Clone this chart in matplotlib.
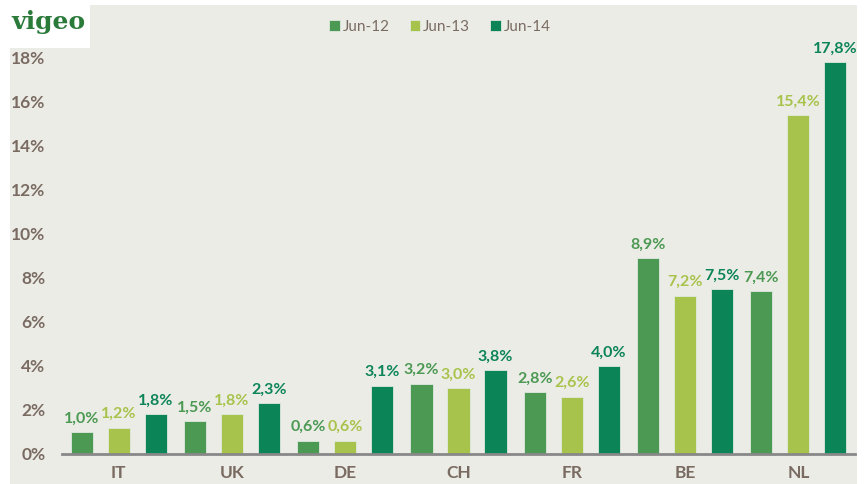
import matplotlib.pyplot as plt
import matplotlib.patches as mpatches
import numpy as np

plt.rcParams['font.family'] = ['Lato', 'DejaVu Sans']

countries = ['IT', 'UK', 'DE', 'CH', 'FR', 'BE', 'NL']
series = ['Jun-12', 'Jun-13', 'Jun-14']
jun12 = [1.0, 1.5, 0.6, 3.2, 2.8, 8.9, 7.4]
jun13 = [1.2, 1.8, 0.6, 3.0, 2.6, 7.2, 15.4]
jun14 = [1.8, 2.3, 3.1, 3.8, 4.0, 7.5, 17.8]
colors = ['#4b9952', '#a8c34b', '#0b8458']
yticks = [0, 2, 4, 6, 8, 10, 12, 14, 16, 18]

bg = '#ecece7'
txt = '#7a6b62'

fig = plt.figure(figsize=(8.67, 4.84), dpi=100, facecolor='white')
# beige panel behind everything
fig.patches.append(mpatches.Rectangle((10 / 867, 0), 847 / 867, 479 / 484,
                                      transform=fig.transFigure, facecolor=bg,
                                      edgecolor='none', zorder=-10))
ax = fig.add_axes([62 / 867, 30 / 484, 793 / 867, 418 / 484])
ax.set_facecolor('none')

x = np.arange(len(countries))
w = 0.195
off = 0.327
for i, (vals, c, name) in enumerate(zip([jun12, jun13, jun14], colors, series)):
    pos = x + (i - 1) * off
    ax.bar(pos, vals, width=w, color=c, label=name, edgecolor='#dfe9df', linewidth=0.6)
    for p, v in zip(pos, vals):
        ax.text(p, v + 0.3, ('%.1f%%' % v).replace('.', ','), ha='center', va='bottom',
                color=c, fontsize=11.5, fontweight='bold')

ax.set_xlim(-0.5, len(countries) - 0.5)
ax.set_ylim(0, 19)
ax.set_yticks(yticks)
ax.set_yticklabels(['%d%%' % t for t in yticks])
ax.set_xticks(x)
ax.set_xticklabels(countries)
for s in ['top', 'right', 'left']:
    ax.spines[s].set_visible(False)
ax.spines['bottom'].set_color('#888888')
ax.spines['bottom'].set_linewidth(2)
ax.tick_params(axis='both', length=0, labelsize=12.5, labelcolor=txt)
ax.tick_params(axis='y', pad=12)
ax.tick_params(axis='x', pad=8)
for lab in ax.get_xticklabels() + ax.get_yticklabels():
    lab.set_fontweight('bold')

fig.legend(loc='center', bbox_to_anchor=(440 / 867, 1 - 27 / 484), ncol=3, frameon=False,
           fontsize=11, handlelength=0.7, handleheight=0.7, handletextpad=0.2,
           columnspacing=1.3, labelcolor=txt)

# logo
fig.patches.append(mpatches.Rectangle((10 / 867, 1 - 48 / 484), 80 / 867, 43 / 484,
                                      transform=fig.transFigure, facecolor='white',
                                      edgecolor='none', zorder=-5))
fig.text(48 / 867, 1 - 22 / 484, 'vigeo', ha='center', va='center', color='#2a7a3a',
         fontsize=18, fontweight='bold', family='DejaVu Serif')

fig.savefig('out.png', dpi=100, facecolor=fig.get_facecolor())
